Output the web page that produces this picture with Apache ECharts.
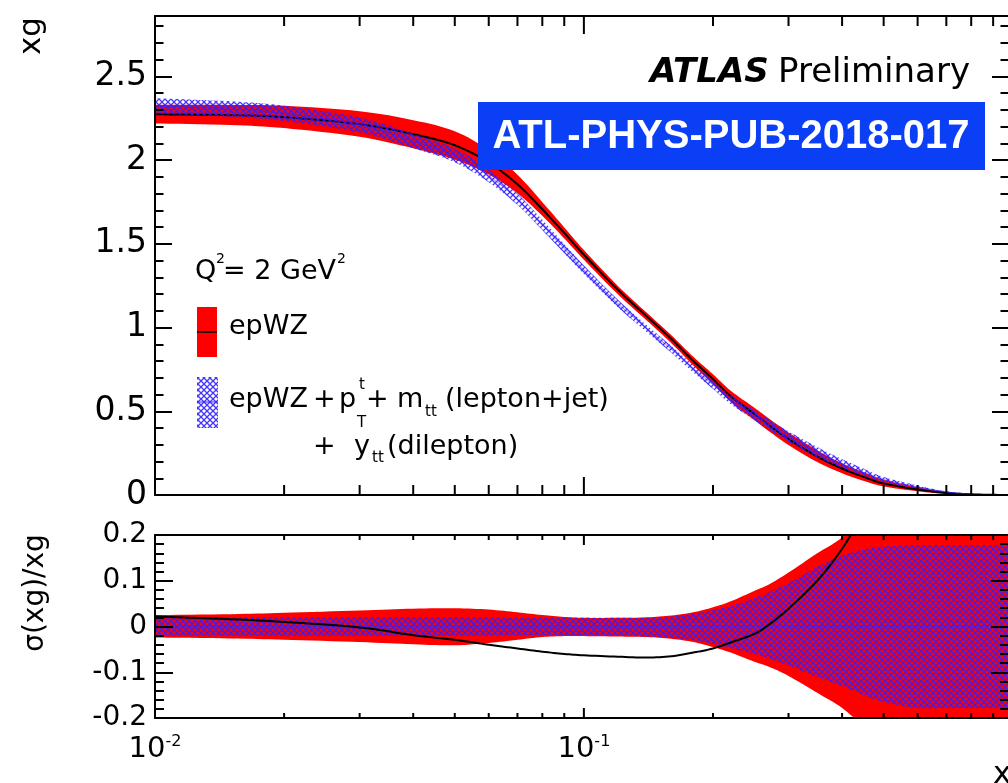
<!DOCTYPE html>
<html>
<head>
<meta charset="utf-8">
<script src="https://cdn.jsdelivr.net/npm/echarts@6/dist/echarts.min.js"></script>
<style>
  html, body { margin: 0; padding: 0; background: #fff; }
  #chart { width: 1008px; height: 783px; }
</style>
</head>
<body>
<div id="chart"></div>
<script>
// Gluon momentum distribution xg at Q^2 = 2 GeV^2 and its relative uncertainties.
const xValues = [0.01, 0.015, 0.02, 0.03, 0.04, 0.05, 0.06, 0.07, 0.08, 0.09, 0.1, 0.12, 0.14,
  0.16, 0.18, 0.2, 0.22, 0.25, 0.27, 0.3, 0.35, 0.4, 0.45, 0.5, 0.6, 0.7, 0.8, 0.9, 0.98];

// epWZ central xg
const xgCentral = [2.273, 2.268, 2.256, 2.214, 2.154, 2.088, 1.985, 1.855, 1.706, 1.565, 1.435, 1.225, 1.068,
  0.931, 0.800, 0.692, 0.590, 0.483, 0.418, 0.334, 0.230, 0.158, 0.107, 0.069, 0.033, 0.012, 0.004, 0.001, 0.0];

// epWZ relative uncertainty (upper / lower)
const epwzErrUp = [0.025, 0.027, 0.030, 0.035, 0.039, 0.040, 0.037, 0.031, 0.025, 0.021, 0.019, 0.019, 0.020,
  0.024, 0.031, 0.042, 0.055, 0.078, 0.092, 0.118, 0.160, 0.195, 0.25, 0.31, 0.42, 0.55, 0.70, 0.85, 1.0];
const epwzErrDown = [0.024, 0.026, 0.029, 0.034, 0.039, 0.041, 0.036, 0.029, 0.023, 0.021, 0.021, 0.022, 0.023,
  0.027, 0.034, 0.045, 0.057, 0.077, 0.088, 0.108, 0.145, 0.178, 0.22, 0.26, 0.34, 0.42, 0.50, 0.60, 0.70];

// epWZ + ttbar fit: relative uncertainty (upper / lower)
const ttErrUp = [0.020, 0.020, 0.020, 0.020, 0.020, 0.020, 0.020, 0.019, 0.019, 0.019, 0.019, 0.019, 0.019,
  0.022, 0.028, 0.036, 0.045, 0.062, 0.075, 0.095, 0.130, 0.155, 0.168, 0.175, 0.178, 0.178, 0.178, 0.178, 0.178];
const ttErrDown = [0.020, 0.020, 0.020, 0.020, 0.020, 0.020, 0.020, 0.019, 0.019, 0.019, 0.019, 0.020, 0.022,
  0.025, 0.030, 0.038, 0.047, 0.060, 0.070, 0.085, 0.110, 0.130, 0.150, 0.165, 0.178, 0.178, 0.178, 0.178, 0.178];

// epWZ + ttbar central relative to epWZ central
const ttRatio = [0.022, 0.016, 0.010, -0.002, -0.019, -0.029, -0.040, -0.048, -0.055, -0.060, -0.063, -0.066, -0.068,
  -0.065, -0.057, -0.048, -0.035, -0.016, 0.004, 0.039, 0.10, 0.17, 0.25, 0.33, 0.45, 0.55, 0.60, 0.60, 0.60];

// x-axis tick positions
const majorTicksX = [0.01, 0.1];
const minorTicksX = [0.02, 0.03, 0.04, 0.05, 0.06, 0.07, 0.08, 0.09, 0.2, 0.3, 0.4, 0.5, 0.6, 0.7, 0.8, 0.9];

const FONT = 'DejaVu Sans';
const RED = '#ff0000';
const BLUE_LINE = '#3020ff';

function makeHatch() {
  const c = document.createElement('canvas');
  c.width = 6; c.height = 6;
  const g = c.getContext('2d');
  g.strokeStyle = 'rgba(50,30,255,0.9)';
  g.lineWidth = 1.3;
  g.beginPath();
  g.moveTo(-1, -1); g.lineTo(7, 7);
  g.moveTo(7, -1); g.lineTo(-1, 7);
  g.stroke();
  return c;
}
const hatch = { image: makeHatch(), repeat: 'repeat' };

const ttCentral = xgCentral.map((v, i) => v * (1 + ttRatio[i]));
const zeroLine = xValues.map(() => 0);

// Catmull-Rom smoothing of a pixel polyline
function spline(pts, n) {
  const out = [];
  const last = pts.length - 1;
  for (let i = 0; i < last; i++) {
    const p0 = pts[Math.max(i - 1, 0)], p1 = pts[i], p2 = pts[i + 1], p3 = pts[Math.min(i + 2, last)];
    for (let k = 0; k < n; k++) {
      const t = k / n, t2 = t * t, t3 = t2 * t;
      const f = j => 0.5 * (2 * p1[j] + (-p0[j] + p2[j]) * t +
        (2 * p0[j] - 5 * p1[j] + 4 * p2[j] - p3[j]) * t2 + (-p0[j] + 3 * p1[j] - 3 * p2[j] + p3[j]) * t3);
      out.push([f(0), f(1)]);
    }
  }
  out.push(pts[last]);
  return out;
}

function clipRect(cs) {
  return { type: 'rect', shape: { x: cs.x, y: cs.y, width: cs.width, height: cs.height } };
}

// filled band between a lower and an upper curve
function bandSeries(xi, yi, lower, upper, fill, z) {
  return {
    type: 'custom', xAxisIndex: xi, yAxisIndex: yi, z, silent: true, clip: true,
    data: xValues.map((x, i) => [x, lower[i], upper[i]]),
    renderItem: (params, api) => {
      if (params.dataIndex !== 0) return null;
      const n = params.dataInsideLength;
      const up = [], lo = [];
      for (let i = 0; i < n; i++) {
        const x = api.value(0, i);
        lo.push(api.coord([x, api.value(1, i)]));
        up.push(api.coord([x, api.value(2, i)]));
      }
      const pts = spline(up, 8).concat(spline(lo, 8).reverse());
      return { type: 'polygon', shape: { points: pts }, style: { fill }, clipPath: clipRect(params.coordSys) };
    }
  };
}

// smooth curve through the data points
function curveSeries(xi, yi, ys, stroke, width, opacity, z) {
  return {
    type: 'custom', xAxisIndex: xi, yAxisIndex: yi, z, silent: true, clip: true,
    data: xValues.map((x, i) => [x, ys[i]]),
    renderItem: (params, api) => {
      if (params.dataIndex !== 0) return null;
      const n = params.dataInsideLength;
      const pts = [];
      for (let i = 0; i < n; i++) pts.push(api.coord([api.value(0, i), api.value(1, i)]));
      return {
        type: 'polyline', shape: { points: spline(pts, 8) },
        style: { stroke, lineWidth: width, fill: 'none', opacity },
        clipPath: clipRect(params.coordSys)
      };
    }
  };
}

// tick marks drawn from the axis scale
function tickSeries(xi, yi, majorLen, minorLen) {
  const ticks = majorTicksX.concat(minorTicksX).map(v => [v, 0]);
  return {
    type: 'custom', xAxisIndex: xi, yAxisIndex: yi, z: 20, silent: true, data: ticks,
    renderItem: (params, api) => {
      const cs = params.coordSys;
      const v = api.value(0);
      const px = api.coord([v, api.value(1)])[0];
      const len = majorTicksX.includes(v) ? majorLen : minorLen;
      const st = { stroke: '#000', lineWidth: 2 };
      return {
        type: 'group', children: [
          { type: 'line', shape: { x1: px, y1: cs.y + cs.height, x2: px, y2: cs.y + cs.height - len }, style: st },
          { type: 'line', shape: { x1: px, y1: cs.y, x2: px, y2: cs.y + len }, style: st }
        ]
      };
    }
  };
}

function xAxis(grid, pos, labels) {
  return {
    gridIndex: grid, type: 'log', logBase: 10, min: 0.01, max: 0.98, position: pos, z: 10,
    axisLine: { show: true, onZero: false, lineStyle: { color: '#000', width: 2 } },
    axisTick: { show: false }, splitLine: { show: false },
    axisLabel: labels ? {
      show: true, margin: 16,
      formatter: v => {
        const l = Math.log10(v), e = Math.round(l);
        return Math.abs(l - e) > 1e-6 ? '' : '{b|10}{e|' + e + '}';
      },
      rich: {
        b: { fontFamily: FONT, fontSize: 29, color: '#000' },
        e: { fontFamily: FONT, fontSize: 16, color: '#000', padding: [0, 0, 14, 0] }
      }
    } : { show: false }
  };
}

function yAxis(grid, pos, min, max, interval, tickLen, labelSize, extra) {
  return Object.assign({
    gridIndex: grid, type: 'value', min, max, interval, position: pos, z: 10,
    axisLine: { show: true, onZero: false, lineStyle: { color: '#000', width: 2 } },
    axisTick: { show: true, inside: true, length: tickLen, lineStyle: { color: '#000', width: 2 } },
    splitLine: { show: false },
    axisLabel: labelSize ? {
      show: true, margin: 8, fontFamily: FONT, fontSize: labelSize, color: '#000',
      formatter: v => {
        const k = v / interval;
        return Math.abs(k - Math.round(k)) < 1e-6 ? String(+v.toFixed(2)) : '';
      }
    } : { show: false }
  }, extra || {});
}

const topLower = xgCentral.map((v, i) => v * (1 - epwzErrDown[i]));
const topUpper = xgCentral.map((v, i) => v * (1 + epwzErrUp[i]));
const ttLower = ttCentral.map((v, i) => v * (1 - ttErrDown[i]));
const ttUpper = ttCentral.map((v, i) => v * (1 + ttErrUp[i]));
const botLower = epwzErrDown.map(v => -v);
const ttBotLower = ttErrDown.map(v => -v);

function txt(text, x, y, size, extra, rotation) {
  return {
    type: 'text', x, y, z: 100, rotation: rotation || 0,
    style: Object.assign({
      text, fontFamily: FONT, fontSize: size, fill: '#000',
      align: 'left', verticalAlign: 'middle', textAlign: 'left', textVerticalAlign: 'middle'
    }, extra || {})
  };
}
const centered = { align: 'center', textAlign: 'center' };

const graphics = [
  txt('xg', 32, 36, 31, centered, Math.PI / 2),
  txt('σ(xg)/xg', 36, 593, 28, centered, Math.PI / 2),
  txt('x', 993, 775, 31),
  txt('ATLAS', 650, 73, 34, { fontWeight: 'bold', fontStyle: 'italic' }),
  txt('Preliminary', 778, 73, 34),
  { type: 'rect', z: 100, shape: { x: 478, y: 102, width: 507, height: 68 }, style: { fill: '#0b3ff5' } },
  txt('ATL-PHYS-PUB-2018-017', 731, 137, 40, {
    fontFamily: 'Liberation Sans', fontWeight: 'bold', fill: '#fff', align: 'center', textAlign: 'center'
  }),
  // legend
  txt('Q', 195, 272, 27),
  txt('2', 216, 259, 14),
  txt('= 2 GeV', 223, 272, 27),
  txt('2', 337, 259, 14),
  { type: 'rect', z: 100, shape: { x: 197, y: 307, width: 20, height: 50 }, style: { fill: RED } },
  { type: 'line', z: 101, shape: { x1: 197, y1: 332, x2: 217, y2: 332 }, style: { stroke: '#000', lineWidth: 1.5 } },
  txt('epWZ', 229, 327, 27),
  { type: 'rect', z: 100, shape: { x: 197, y: 377, width: 21, height: 51 }, style: { fill: hatch } },
  { type: 'line', z: 101, shape: { x1: 197, y1: 402, x2: 218, y2: 402 }, style: { stroke: BLUE_LINE, lineWidth: 1 } },
  txt('epWZ', 229, 400, 27),
  txt('+', 313, 400, 27),
  txt('p', 339, 400, 27),
  txt('t', 359, 385, 15),
  txt('T', 357, 423, 15),
  txt('+', 366, 400, 27),
  txt('m', 397, 400, 27),
  txt('tt', 425, 412, 15),
  txt('(lepton+jet)', 445, 400, 27),
  txt('+', 313, 447, 27),
  txt('y', 354, 447, 27),
  txt('tt', 372, 458, 15),
  txt('(dilepton)', 387, 447, 27)
];

const chart = echarts.init(document.getElementById('chart'));
chart.setOption({
  animation: false,
  backgroundColor: '#fff',
  grid: [
    { left: 155, right: -1, top: 16, height: 479, containLabel: false, outerBoundsMode: 'none' },
    { left: 155, right: -1, top: 535, height: 183, containLabel: false, outerBoundsMode: 'none' }
  ],
  xAxis: [xAxis(0, 'bottom', false), xAxis(0, 'top', false), xAxis(1, 'bottom', true), xAxis(1, 'top', false)],
  yAxis: [
    yAxis(0, 'left', 0, 2.86, 0.5, 17, 33),
    yAxis(0, 'left', 0, 2.86, 0.1, 8.5, 0, { axisLine: { show: false } }),
    yAxis(0, 'right', 0, 2.86, 0.5, 17, 0),
    yAxis(0, 'right', 0, 2.86, 0.1, 8.5, 0, { axisLine: { show: false } }),
    yAxis(1, 'left', -0.2, 0.2, 0.1, 18, 28,
      { minorTick: { show: true, splitNumber: 5, length: 9, lineStyle: { color: '#000', width: 2 } } }),
    yAxis(1, 'right', -0.2, 0.2, 0.1, 18, 0,
      { minorTick: { show: true, splitNumber: 5, length: 9, lineStyle: { color: '#000', width: 2 } } })
  ],
  graphic: graphics,
  series: [
    // upper panel
    bandSeries(0, 0, topLower, topUpper, RED, 2),
    curveSeries(0, 0, xgCentral, '#000', 2, 1, 3),
    bandSeries(0, 0, ttLower, ttUpper, hatch, 4),
    curveSeries(0, 0, ttCentral, BLUE_LINE, 1, 0.6, 5),
    tickSeries(0, 0, 18, 10),
    // ratio panel
    bandSeries(2, 4, botLower, epwzErrUp, RED, 2),
    bandSeries(2, 4, ttBotLower, ttErrUp, hatch, 4),
    curveSeries(2, 4, zeroLine, BLUE_LINE, 1, 0.6, 5),
    curveSeries(2, 4, ttRatio, '#000', 2, 1, 6),
    tickSeries(2, 4, 10, 5)
  ]
});
</script>
</body>
</html>
